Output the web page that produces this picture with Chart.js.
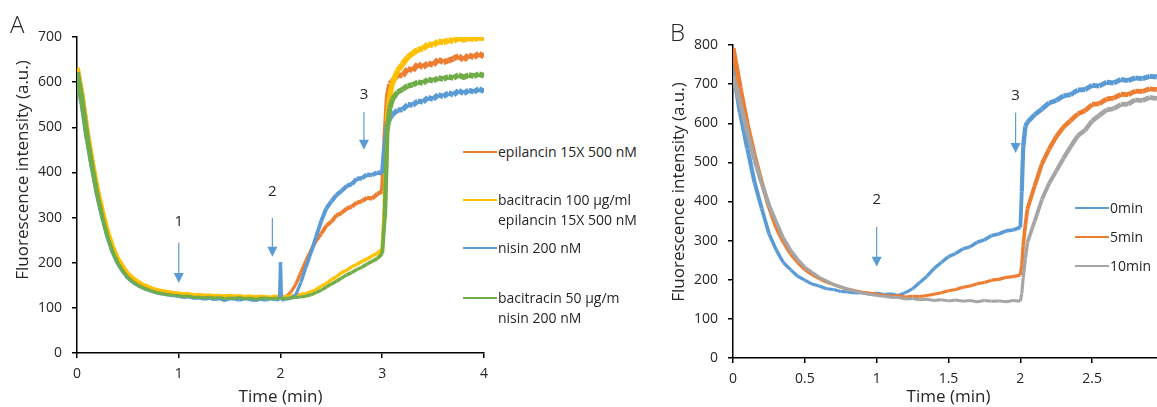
<!DOCTYPE html>
<html>
<head>
<meta charset="utf-8">
<title>Fluorescence traces</title>
<script src="https://cdn.jsdelivr.net/npm/chart.js@4/dist/chart.umd.min.js"></script>
<style>
  body { margin: 0; width: 1157px; height: 407px; overflow: hidden; background: #fff; position: relative;
         font-family: "Open Sans", sans-serif; color: #262626; }
  canvas { position: absolute; top: 0; }
  #chartA { left: 0; }
  #chartB { left: 660px; }
  .panel { position: absolute; font-size: 24px; font-weight: 300; line-height: 1; }
  .ytitle { position: absolute; font-size: 17px; white-space: nowrap; transform: translate(-50%, -50%) rotate(-90deg); }
  .item { position: absolute; font-size: 14px; line-height: 20px; white-space: nowrap; }
  .item i { position: absolute; left: -35px; top: 9px; width: 34px; height: 2px; }
</style>
</head>
<body>
<canvas id="chartA" width="496" height="407"></canvas>
<canvas id="chartB" width="526" height="407"></canvas>

<div class="panel" style="left:10px; top:12px;">A</div>
<div class="panel" style="left:670px; top:20px;">B</div>
<div class="ytitle" style="left:21px; top:170px;">Fluorescence intensity (a.u.)</div>
<div class="ytitle" style="left:677px; top:192px;">Fluorescence intensity (a.u.)</div>

<div class="item" style="left:498px; top:142px;"><i style="background:#ed7d31"></i>epilancin 15X 500 nM</div>
<div class="item" style="left:498px; top:190px;"><i style="background:#ffc000"></i>bacitracin 100 µg/ml<br>epilancin 15X 500 nM</div>
<div class="item" style="left:498px; top:238px;"><i style="background:#5b9bd5"></i>nisin 200 nM</div>
<div class="item" style="left:498px; top:288px;"><i style="background:#70ad47"></i>bacitracin 50 µg/m<br>nisin 200 nM</div>

<div class="item" style="left:1110px; top:198px;"><i style="background:#5b9bd5"></i>0min</div>
<div class="item" style="left:1110px; top:227px;"><i style="background:#ed7d31"></i>5min</div>
<div class="item" style="left:1110px; top:256px;"><i style="background:#a5a5a5"></i>10min</div>

<script>
// Panel A: time in minutes, fluorescence in a.u.
const timeA = [0,0.05,0.1,0.15,0.2,0.25,0.3,0.35,0.4,0.45,
  0.5,0.55,0.6,0.65,0.7,0.75,0.8,0.85,0.9,0.95,
  1,1.05,1.1,1.15,1.2,1.25,1.3,1.35,1.4,1.45,
  1.5,1.55,1.6,1.65,1.7,1.75,1.8,1.85,1.9,1.95,
  1.99,2,2.01,2.05,2.1,2.15,2.2,2.25,2.3,2.35,
  2.4,2.45,2.5,2.55,2.6,2.65,2.7,2.75,2.8,2.85,
  2.9,2.95,3,3.025,3.05,3.075,3.1,3.15,3.2,3.25,
  3.3,3.35,3.4,3.45,3.5,3.55,3.6,3.65,3.7,3.75,
  3.8,3.85,3.9,3.95,4];

const epilancin = [628,566,485,421,359,311,266,233,205,189,
  172,163,153,149,143,140,136,135,132,131,
  130,131,127,129,126,128,125,127,124,126,
  125,123,126,124,122,125,123,124,121,124,
  123,124,122,124,134,152,178,204,227,249,
  264,282,291,305,310,320,324,333,336,344,
  342,352,358,470,565,596,602,616,614,630,
  626,640,633,642,638,650,644,648,652,658,
  649,660,655,663,657];

const bacitracin100 = [632,570,492,427,367,318,274,239,212,194,
  178,167,159,152,148,143,140,138,136,134,
  133,131,132,129,130,128,129,127,128,126,
  128,126,127,125,127,124,126,125,124,126,
  125,124,126,125,127,128,130,132,136,141,
  148,154,163,169,178,183,191,196,203,208,
  215,220,230,330,520,572,598,625,640,655,
  664,672,674,684,682,690,688,693,691,698,
  694,698,695,699,697];

const nisin = [619,552,474,408,347,298,255,222,197,180,
  165,156,149,143,139,135,132,130,128,127,
  125,123,124,121,122,119,121,118,120,116,
  120,119,117,120,118,116,119,117,120,118,
  118,201,117,119,121,129,156,190,223,258,
  292,320,336,350,359,370,374,386,387,395,
  394,400,398,462,505,520,528,538,539,550,
  549,558,556,566,562,572,568,576,572,581,
  575,582,578,585,580];

const bacitracin50 = [622,557,477,411,351,301,258,225,200,182,
  167,157,150,144,140,136,133,131,129,128,
  127,125,126,123,124,122,124,121,123,120,
  122,121,123,120,122,119,121,122,120,121,
  121,122,120,121,122,123,124,126,129,134,
  139,146,153,159,166,173,178,185,190,197,
  203,209,220,300,495,543,562,578,584,592,
  594,600,598,606,603,609,607,612,609,616,
  611,616,613,618,614];

const xTicksA = [0, 1, 2, 3, 4];
const yTicksA = [0, 100, 200, 300, 400, 500, 600, 700];
// additions: time, arrow start/end and number position in a.u.
const arrowsA = [
  { t: 1, from: 244, to: 155, label: '1', at: 290 },
  { t: 1.92, from: 299, to: 213, label: '2', at: 357 },
  { t: 2.82, from: 534, to: 450, label: '3', at: 573 }
];

// Panel B: preincubation 0, 5 and 10 min
const timeB = [0,0.05,0.1,0.15,0.2,0.25,0.3,0.35,0.4,0.45,
  0.5,0.55,0.6,0.65,0.7,0.75,0.8,0.85,0.9,0.95,
  1,1.05,1.1,1.15,1.2,1.25,1.3,1.35,1.4,1.45,
  1.5,1.55,1.6,1.65,1.7,1.75,1.8,1.85,1.9,1.95,
  2,2.01,2.02,2.035,2.05,2.1,2.15,2.2,2.25,2.3,
  2.35,2.4,2.45,2.5,2.55,2.6,2.65,2.7,2.75,2.8,
  2.85,2.9,2.95,3];

const min0 = [742,628,536,449,382,318,277,244,226,209,
  199,189,184,177,175,170,169,166,167,163,
  166,162,164,160,167,177,193,209,229,244,
  259,267,279,284,296,302,313,317,325,327,
  334,425,540,592,603,622,636,652,658,670,
  673,685,686,697,695,705,703,712,709,716,
  714,720,718,724];

const min5 = [792,690,598,518,450,385,333,296,266,244,
  226,213,203,194,188,181,176,172,168,166,
  163,161,158,160,156,158,157,160,163,167,
  172,175,181,184,190,193,199,201,206,208,
  212,238,288,340,382,440,496,534,566,590,
  607,624,632,648,650,662,664,674,673,682,
  681,688,686,692];

const min10 = [722,652,577,506,446,392,348,307,276,252,
  232,219,206,197,188,182,175,171,166,163,
  160,158,155,155,151,152,149,150,147,149,
  146,148,145,147,144,147,145,146,144,147,
  145,165,205,255,296,350,405,446,478,510,
  540,568,582,606,620,634,637,648,649,660,
  658,666,663,670];

const xTicksB = [0, 0.5, 1, 1.5, 2, 2.5, 3];
const yTicksB = [0, 100, 200, 300, 400, 500, 600, 700, 800];
const arrowsB = [
  { t: 1, from: 335, to: 233, label: '2', at: 404 },
  { t: 1.967, from: 627, to: 524, label: '3', at: 670 }
];

Chart.defaults.font.family = '"Open Sans", sans-serif';
Chart.defaults.color = '#262626';

// blue marker arrows with their step number above
function arrowPlugin(marks) {
  return {
    id: 'arrows',
    afterDatasetsDraw(chart) {
      const ctx = chart.ctx, x = chart.scales.x, y = chart.scales.y;
      ctx.save();
      marks.forEach(m => {
        const px = x.getPixelForValue(m.t);
        const top = y.getPixelForValue(m.from);
        const tip = y.getPixelForValue(m.to);
        ctx.strokeStyle = '#5b9bd5';
        ctx.fillStyle = '#5b9bd5';
        ctx.lineWidth = 1.2;
        ctx.beginPath();
        ctx.moveTo(px, top);
        ctx.lineTo(px, tip - 9);
        ctx.stroke();
        ctx.beginPath();
        ctx.moveTo(px - 5, tip - 10);
        ctx.lineTo(px + 5, tip - 10);
        ctx.lineTo(px, tip);
        ctx.closePath();
        ctx.fill();
        ctx.fillStyle = '#262626';
        ctx.font = '15px "Open Sans", sans-serif';
        ctx.textAlign = 'center';
        ctx.textBaseline = 'middle';
        ctx.fillText(m.label, px, y.getPixelForValue(m.at));
      });
      ctx.restore();
    }
  };
}

// the signal gets noisier as it gets brighter, so the trace widens with the value
function trace(label, time, values, color, order, top) {
  return {
    label: label,
    data: time.map((t, i) => ({ x: t, y: values[i] })),
    borderColor: color,
    borderWidth: 3,
    borderJoinStyle: 'round',
    segment: {
      borderWidth: c => 2.5 + 3.5 * (c.p0.parsed.y + c.p1.parsed.y) / (2 * top)
    },
    pointRadius: 0,
    tension: 0,
    order: order
  };
}

function axis(ticks, size, isX, pad) {
  return {
    type: 'linear',
    min: ticks[0],
    max: ticks[ticks.length - 1],
    afterBuildTicks: s => { s.ticks = ticks.map(v => ({ value: v })); },
    afterFit: s => { if (isX) s.height = size; else s.width = size; },
    grid: { drawOnChartArea: false, drawTicks: true, tickLength: 5, color: '#000', lineWidth: 1.5 },
    border: { display: true, color: '#000', width: 1.5 },
    ticks: { padding: isX ? 8 : 10, font: { size: 14 }, color: '#262626', maxRotation: 0,
             autoSkip: false, callback: v => String(v) },
    title: isX ? { display: true, text: 'Time (min)', font: { size: 17 }, color: '#262626', padding: { top: 0, bottom: pad } }
               : { display: false }
  };
}

function drawPanel(id, datasets, xTicks, yTicks, xHeight, yWidth, padding, titlePad, marks) {
  new Chart(document.getElementById(id), {
    type: 'line',
    data: { datasets: datasets },
    options: {
      responsive: false,
      animation: false,
      layout: { padding: padding },
      scales: {
        x: axis(xTicks, xHeight, true, titlePad),
        y: axis(yTicks, yWidth, false, 0)
      },
      plugins: {
        legend: { display: false },
        tooltip: { enabled: false }
      }
    },
    plugins: [arrowPlugin(marks)]
  });
}

drawPanel('chartA', [
  trace('epilancin 15X 500 nM', timeA, epilancin, '#ed7d31', 3, 700),
  trace('bacitracin 100 µg/ml epilancin 15X 500 nM', timeA, bacitracin100, '#ffc000', 2, 700),
  trace('nisin 200 nM', timeA, nisin, '#5b9bd5', 1, 700),
  trace('bacitracin 50 µg/m nisin 200 nM', timeA, bacitracin50, '#70ad47', 0, 700)
], xTicksA, yTicksA, 54, 77, { top: 37, right: 6, bottom: 0, left: 0 }, 0, arrowsA);

drawPanel('chartB', [
  trace('0min', timeB, min0, '#5b9bd5', 2, 1000),
  trace('5min', timeB, min5, '#ed7d31', 1, 1000),
  trace('10min', timeB, min10, '#a5a5a5', 0, 1000)
], xTicksB, yTicksB, 49, 73, { top: 45, right: 22, bottom: 0, left: 0 }, 0, arrowsB);
</script>
</body>
</html>
